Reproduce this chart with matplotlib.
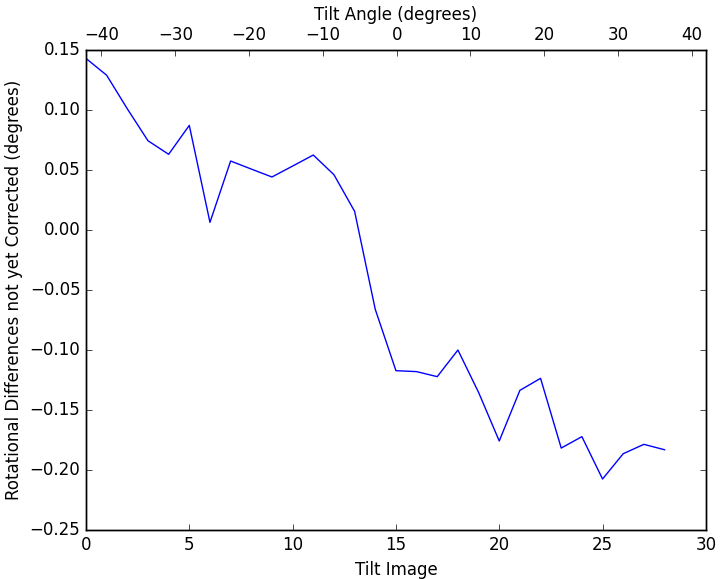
import numpy as np
import matplotlib.pyplot as plt
from matplotlib.ticker import MultipleLocator

plt.style.use('classic')

# Data
tilt_image = list(range(29))
rot_diff = [0.143, 0.129, 0.101, 0.0744, 0.0631, 0.0872, 0.0064, 0.0575, 0.0508,
            0.0442, 0.0533, 0.0625, 0.0461, 0.0156, -0.0661, -0.1172, -0.118,
            -0.1222, -0.100, -0.1353, -0.1758, -0.1336, -0.1236, -0.1817, -0.1722,
            -0.2075, -0.1864, -0.1786, -0.1831]
angle_limits = (-42.1, 41.9)

fig = plt.figure(figsize=(7.25, 5.79), dpi=100, facecolor='white')
ax = fig.add_axes([0.1186, 0.0846, 0.855, 0.829])
ax.plot(tilt_image, rot_diff, color='blue')
ax.set_xlim(0, 30)
ax.set_ylim(-0.25, 0.15)
ax.set_xlabel('Tilt Image')
ax.set_ylabel('Rotational Differences not yet Corrected (degrees)')

# top axis
ax2 = ax.twiny()
ax2.set_xlim(*angle_limits)
ax2.xaxis.set_major_locator(MultipleLocator(10))
ax2.set_xlabel('Tilt Angle (degrees)')

fig.savefig('out.png', dpi=100, facecolor='white')
